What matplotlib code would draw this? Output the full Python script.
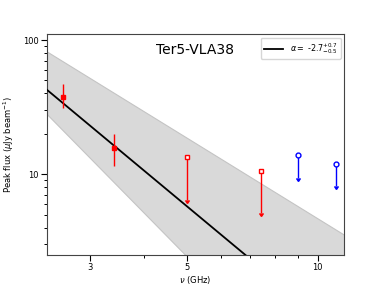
import numpy as np
import matplotlib
matplotlib.use("Agg")
import matplotlib.pyplot as plt
from matplotlib.ticker import FixedLocator, FixedFormatter, LogLocator, NullFormatter

# === Dados ===
det_freq = [2.6, 3.4]            # GHz, detecções
det_flux = [37.6, 15.8]          # uJy/beam
det_err_lo = [6.6, 4.2]
det_err_hi = [9.4, 4.1]

ul_red_freq = [5.0, 7.4]         # limites superiores (vermelho)
ul_red_flux = [13.4, 10.5]
ul_red_low = [6.4, 5.1]          # ponta da seta

ul_blue_freq = [9.0, 11.0]       # limites superiores (azul)
ul_blue_flux = [13.9, 12.0]
ul_blue_low = [9.3, 8.2]

fit_amp = 5.8        # fluxo em 5 GHz
fit_alpha = -2.7
band_up = (81.8, 2.39, -2.0)     # (fluxo, freq ref, índice)
band_lo = (2.5, 4.97, -3.3)

xticks = [3, 5, 10]
yticks = [10, 100]

# =============================================================
fig = plt.figure(figsize=(3.82, 2.87), dpi=100)
ax = fig.add_axes([0.123, 0.1115, 0.7775, 0.7683])

nu = np.logspace(np.log10(2.3), np.log10(12), 200)
upper = band_up[0] * (nu / band_up[1]) ** band_up[2]
lower = band_lo[0] * (nu / band_lo[1]) ** band_lo[2]
ax.fill_between(nu, lower, upper, color='#d9d9d9', edgecolor='#c4c4c4', lw=0.8, zorder=1)
ax.plot(nu, fit_amp * (nu / 5.0) ** fit_alpha, color='black', lw=1.3, zorder=3,
        label=r'$\alpha = $ -2.7$^{+0.7}_{-0.5}$')

ax.errorbar(det_freq, det_flux, yerr=[det_err_lo, det_err_hi], fmt='s', color='red',
            ms=3.5, elinewidth=1.0, capsize=0, zorder=4)

ul_red_err = np.array(ul_red_flux) - np.array(ul_red_low)
ax.errorbar(ul_red_freq, ul_red_flux, yerr=ul_red_err, uplims=True, fmt='s', color='red',
            mfc='white', mew=1.0, ms=3.5, elinewidth=1.0, capsize=1.5, zorder=4)

ul_blue_err = np.array(ul_blue_flux) - np.array(ul_blue_low)
ax.errorbar(ul_blue_freq, ul_blue_flux, yerr=ul_blue_err, uplims=True, fmt='o', color='blue',
            mfc='white', mew=1.0, ms=3.5, elinewidth=1.0, capsize=1.5, zorder=4)

ax.set_xscale('log')
ax.set_yscale('log')
ax.set_xlim(2.39, 11.5)
ax.set_ylim(2.5, 110)

ax.xaxis.set_major_locator(FixedLocator(xticks))
ax.xaxis.set_major_formatter(FixedFormatter([str(t) for t in xticks]))
ax.xaxis.set_minor_locator(LogLocator(base=10, subs=np.arange(2, 10)))
ax.xaxis.set_minor_formatter(NullFormatter())
ax.yaxis.set_major_locator(FixedLocator(yticks))
ax.yaxis.set_major_formatter(FixedFormatter([str(t) for t in yticks]))
ax.yaxis.set_minor_locator(LogLocator(base=10, subs=np.arange(2, 10)))
ax.yaxis.set_minor_formatter(NullFormatter())
ax.tick_params(labelsize=6, length=4, width=0.8, pad=2)
ax.tick_params(which='minor', length=2.5, width=0.7)

ax.set_xlabel(r'$\nu$ (GHz)', fontsize=6, labelpad=1)
ax.set_ylabel(r'Peak flux ($\mu$Jy beam$^{-1}$)', fontsize=6)
ax.yaxis.set_label_coords(-0.105, 0.5)
ax.text(0.5, 0.96, 'Ter5-VLA38', transform=ax.transAxes, ha='center', va='top', fontsize=10)

ax.legend(loc='upper right', fontsize=5.8, handlelength=2.4, borderaxespad=0.4)

for s in ax.spines.values():
    s.set_color('#444444')

fig.savefig("out.png", dpi=100)
